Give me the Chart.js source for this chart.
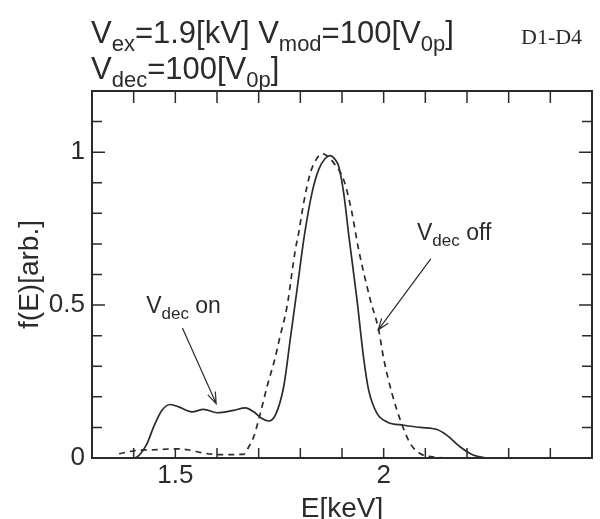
<!DOCTYPE html>
<html lang="en">
<head>
<meta charset="UTF-8" />
<title>f(E) with V_dec on / off</title>
<script src="https://cdn.jsdelivr.net/npm/chart.js"></script>
<style>
  html, body { margin: 0; padding: 0; background: #fff; }
  #chart { display: block; }
</style>
</head>
<body>
<canvas id="chart" width="600" height="519"></canvas>
<script>
  // energy [keV] and f(E) [arb.]
  const eOn  = [1.36, 1.40, 1.41, 1.432, 1.448, 1.468, 1.488, 1.508, 1.54, 1.568, 1.60, 1.64, 1.668, 1.688, 1.708, 1.724, 1.74, 1.76, 1.776, 1.792, 1.81, 1.828, 1.844, 1.86, 1.872, 1.884, 1.892, 1.904, 1.917, 1.936, 1.952, 1.964, 1.984, 2.008, 2.048, 2.088, 2.128, 2.152, 2.184, 2.216, 2.248];
  const fOn  = [0, 0, 0.005, 0.047, 0.102, 0.156, 0.175, 0.167, 0.151, 0.159, 0.148, 0.156, 0.164, 0.151, 0.129, 0.121, 0.14, 0.233, 0.39, 0.55, 0.73, 0.867, 0.943, 0.98, 0.989, 0.975, 0.954, 0.867, 0.72, 0.517, 0.326, 0.222, 0.146, 0.118, 0.107, 0.1, 0.093, 0.074, 0.036, 0.009, 0];
  const eOff = [1.365, 1.408, 1.448, 1.50, 1.53, 1.568, 1.608, 1.664, 1.676, 1.688, 1.704, 1.72, 1.74, 1.75, 1.768, 1.788, 1.796, 1.808, 1.824, 1.84, 1.852, 1.862, 1.88, 1.904, 1.924, 1.934, 1.94, 1.968, 1.988, 2.0, 2.02, 2.04, 2.064, 2.088, 2.12, 2.15];
  const fOff = [0.014, 0.025, 0.027, 0.03, 0.027, 0.016, 0.011, 0.012, 0.036, 0.069, 0.146, 0.233, 0.33, 0.39, 0.495, 0.681, 0.736, 0.834, 0.932, 0.98, 0.995, 0.99, 0.965, 0.91, 0.801, 0.725, 0.681, 0.517, 0.419, 0.325, 0.211, 0.124, 0.047, 0.014, 0.003, 0];

  const xLabels = [1.5, 2];
  const yLabels = [0, 0.5, 1];

  const INK = '#2b2b2b';
  const SANS = '"Liberation Sans", Arial, sans-serif';

  function pts(xs, ys) { return xs.map((x, i) => ({ x: x, y: ys[i] })); }
  function near(v, list) { return list.some(l => Math.abs(v - l) < 1e-6); }

  // text with subscripts, parts = [[text, isSub], ...]
  function drawParts(ctx, x, y, parts, size, subSize, drop) {
    parts.forEach(p => {
      ctx.font = (p[1] ? subSize : size) + 'px ' + SANS;
      ctx.fillText(p[0], x, p[1] ? y + drop : y);
      x += ctx.measureText(p[0]).width;
    });
  }

  function arrow(ctx, x1, y1, x2, y2) {
    const a = Math.atan2(y2 - y1, x2 - x1), h = 12, w = 0.35;
    ctx.beginPath();
    ctx.moveTo(x1, y1);
    ctx.lineTo(x2, y2);
    ctx.moveTo(x2 - h * Math.cos(a - w), y2 - h * Math.sin(a - w));
    ctx.lineTo(x2, y2);
    ctx.lineTo(x2 - h * Math.cos(a + w), y2 - h * Math.sin(a + w));
    ctx.stroke();
  }

  const decor = {
    id: 'decor',
    afterDraw(chart) {
      const { ctx, chartArea: a, scales: { x, y } } = chart;
      ctx.save();
      ctx.strokeStyle = INK;
      ctx.fillStyle = INK;

      // frame
      ctx.lineWidth = 2;
      ctx.strokeRect(a.left, a.top, a.right - a.left, a.bottom - a.top);

      // inward ticks on all four sides
      ctx.lineWidth = 1.5;
      ctx.beginPath();
      x.ticks.forEach(t => {
        if (t.value <= x.min + 1e-6 || t.value >= x.max - 1e-6) return;
        const px = x.getPixelForValue(t.value);
        ctx.moveTo(px, a.bottom); ctx.lineTo(px, a.bottom - 10);
        ctx.moveTo(px, a.top); ctx.lineTo(px, a.top + 12);
      });
      y.ticks.forEach(t => {
        if (t.value <= y.min + 1e-6 || t.value >= y.max - 1e-6) return;
        const py = y.getPixelForValue(t.value);
        const len = near(t.value, yLabels) ? 13 : 10;
        ctx.moveTo(a.left, py); ctx.lineTo(a.left + len, py);
        ctx.moveTo(a.right, py); ctx.lineTo(a.right - len, py);
      });
      ctx.stroke();

      // annotation arrows
      ctx.lineWidth = 1.2;
      arrow(ctx, x.getPixelForValue(1.517), y.getPixelForValue(0.425),
                 x.getPixelForValue(1.598), y.getPixelForValue(0.178));
      arrow(ctx, x.getPixelForValue(2.113), y.getPixelForValue(0.651),
                 x.getPixelForValue(1.987), y.getPixelForValue(0.419));

      // annotation labels
      ctx.textBaseline = 'alphabetic';
      drawParts(ctx, x.getPixelForValue(1.43), y.getPixelForValue(0.473),
        [['V', 0], ['dec', 1], [' on', 0]], 23, 17, 6);
      drawParts(ctx, x.getPixelForValue(2.08), y.getPixelForValue(0.714),
        [['V', 0], ['dec', 1], [' off', 0]], 23, 17, 6);

      // heading
      drawParts(ctx, 91, 43,
        [['V', 0], ['ex', 1], ['=1.9[kV] V', 0], ['mod', 1], ['=100[V', 0], ['0p', 1], [']', 0]], 31, 22, 8);
      drawParts(ctx, 91, 79,
        [['V', 0], ['dec', 1], ['=100[V', 0], ['0p', 1], [']', 0]], 31, 22, 8);
      ctx.font = '22px "Liberation Serif", serif';
      ctx.fillText('D1-D4', 521, 44);

      ctx.restore();
    }
  };

  new Chart(document.getElementById('chart'), {
    type: 'line',
    data: {
      datasets: [
        {
          label: 'Vdec on',
          data: pts(eOn, fOn),
          borderColor: INK,
          borderWidth: 1.7,
          pointRadius: 0,
          cubicInterpolationMode: 'monotone'
        },
        {
          label: 'Vdec off',
          data: pts(eOff, fOff),
          borderColor: INK,
          borderWidth: 1.7,
          borderDash: [6, 5],
          pointRadius: 0,
          cubicInterpolationMode: 'monotone'
        }
      ]
    },
    options: {
      responsive: false,
      animation: false,
      layout: { padding: { top: 91, right: 8, left: 0, bottom: 0 } },
      plugins: { legend: { display: false }, tooltip: { enabled: false } },
      scales: {
        x: {
          type: 'linear',
          min: 1.3,
          max: 2.5,
          afterFit: s => { s.height = 61; },
          grid: { display: false, drawTicks: false },
          border: { display: false },
          ticks: {
            stepSize: 0.1,
            autoSkip: false,
            maxRotation: 0,
            padding: 2,
            color: INK,
            font: { family: SANS, size: 26 },
            callback: v => near(v, xLabels) ? String(Math.round(v * 10) / 10) : ''
          },
          title: {
            display: true,
            text: 'E[keV]',
            color: INK,
            font: { family: SANS, size: 28 },
            padding: { top: 0, bottom: -7 }
          }
        },
        y: {
          min: 0,
          max: 1.2,
          afterFit: s => { s.width = 92; },
          grid: { display: false, drawTicks: false },
          border: { display: false },
          ticks: {
            stepSize: 0.1,
            autoSkip: false,
            padding: 7,
            color: INK,
            font: { family: SANS, size: 26 },
            callback: v => near(v, yLabels) ? String(Math.round(v * 10) / 10) : ''
          },
          title: {
            display: true,
            text: 'f(E)[arb.]',
            color: INK,
            font: { family: SANS, size: 28 },
            padding: { top: 13, bottom: 0 }
          }
        }
      }
    },
    plugins: [decor]
  });
</script>
</body>
</html>
